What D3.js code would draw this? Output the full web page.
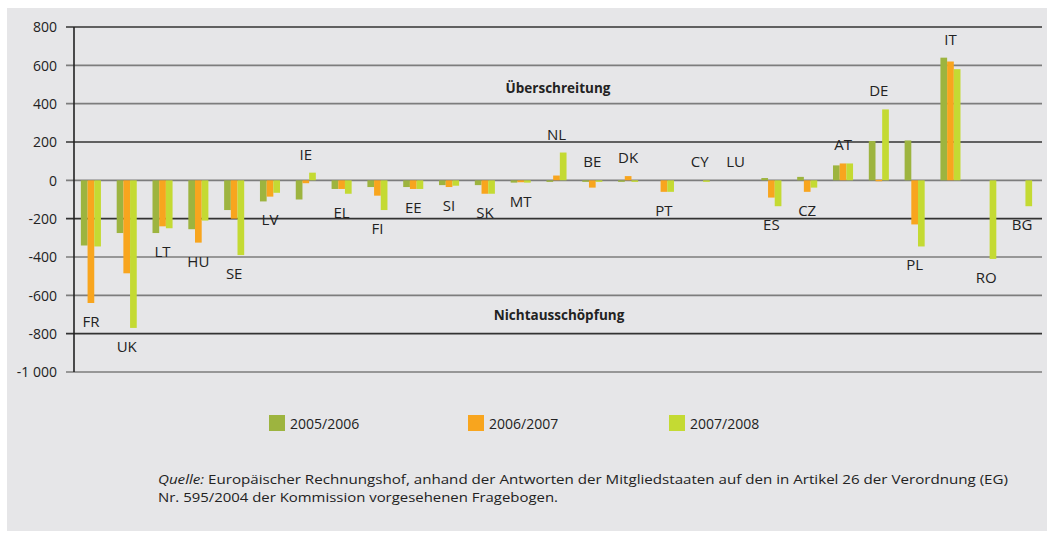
<!DOCTYPE html>
<html>
<head>
<meta charset="utf-8">
<script src="https://cdn.jsdelivr.net/npm/d3@7"></script>
<style>
  html, body { margin: 0; padding: 0; background: #ffffff; }
  svg { display: block; }
</style>
</head>
<body>
<svg id="chart" width="1053" height="533"></svg>
<script>
// ---- data ----
const countries = ["FR","UK","LT","HU","SE","LV","IE","EL","FI","EE","SI","SK","MT","NL","BE","DK","PT","CY","LU","ES","CZ","AT","DE","PL","IT","RO","BG"];
const seriesNames = ["2005/2006","2006/2007","2007/2008"];
const v2005 = [-340,-275,-275,-255,-155,-110,-100,-45,-35,-35,-25,-25,-12,-8,-5,-5,0,0,0,12,18,78,205,208,640,0,0];
const v2006 = [-640,-485,-240,-325,-200,-85,-15,-45,-80,-45,-35,-70,-10,25,-38,22,-60,0,0,-90,-60,88,3,-230,620,0,0];
const v2007 = [-345,-770,-250,-210,-390,-65,40,-70,-155,-45,-28,-70,-12,145,-5,-8,-60,-4,0,-135,-38,88,370,-345,580,-410,-135];
const labelSide = ["d","d","d","d","d","d","u","d","d","d","d","d","d","u","u","u","d","u","u","d","d","u","u","d","u","d","d"];
const yTicks = [800,600,400,200,0,-200,-400,-600,-800,-1000];
const darkTicks = [800,200,-200,-800];
const annotationUp = "Überschreitung";
const annotationDown = "Nichtausschöpfung";
const sourceLine1Italic = "Quelle:";
const sourceLine1 = " Europäischer Rechnungshof, anhand der Antworten der Mitgliedstaaten auf den in Artikel 26 der Verordnung (EG)";
const sourceLine2 = "Nr. 595/2004 der Kommission vorgesehenen Fragebogen.";

const colors = ["#9db43f", "#f8a51e", "#c4da33"];
const series = [v2005, v2006, v2007];

// ---- layout ----
const svg = d3.select("#chart");
const font = "'Open Sans', 'DejaVu Sans', sans-serif";

svg.append("rect").attr("x", 7).attr("y", 8).attr("width", 1040).attr("height", 523).attr("fill", "#e6e6e8");

const y = d3.scaleLinear().domain([-1000, 800]).range([372, 27]);
const x0 = d3.scaleBand().domain(countries).range([73, 1040]).paddingInner(0.44).paddingOuter(0.22);
const x1 = d3.scaleBand().domain(seriesNames).range([0, x0.bandwidth()]).padding(0);

// gridlines
const grid = svg.append("g");
grid.selectAll("line").data(yTicks).join("line")
  .attr("x1", 66).attr("x2", 1042)
  .attr("y1", d => y(d)).attr("y2", d => y(d))
  .attr("stroke", d => darkTicks.includes(d) ? "#333" : "#7d7d7d")
  .attr("stroke-width", 1.6);

// y axis labels
const fmt = d => d === -1000 ? "-1 000" : String(d);
const axis = d3.axisLeft(y).tickValues(yTicks).tickFormat(fmt).tickSize(0).tickPadding(0);
const ag = svg.append("g").attr("transform", "translate(57,0)").call(axis);
ag.select(".domain").remove();
ag.selectAll("text").attr("font-family", font).attr("font-size", 14).attr("fill", "#222").attr("dy", "0.35em").attr("x", 0);

// bars
const groups = svg.append("g").selectAll("g").data(countries).join("g")
  .attr("transform", d => `translate(${x0(d)},0)`);
groups.selectAll("rect").data((c, i) => seriesNames.map((s, k) => ({s, k, v: series[k][i]})))
  .join("rect")
  .attr("x", d => x1(d.s))
  .attr("width", x1.bandwidth())
  .attr("y", d => y(Math.max(0, d.v)))
  .attr("height", d => Math.max(Math.abs(y(d.v) - y(0)), d.v === 0 ? 0 : 1.5))
  .attr("fill", d => colors[d.k]);

// vertical axis line
svg.append("line").attr("x1", 74).attr("x2", 74).attr("y1", y(800)).attr("y2", y(-1000))
  .attr("stroke", "#222").attr("stroke-width", 1.6);

// country labels
svg.append("g").selectAll("text").data(countries).join("text")
  .attr("x", d => x0(d) + x0.bandwidth() / 2)
  .attr("y", (d, i) => {
    const vals = series.map(s => s[i]);
    return labelSide[i] === "u" ? y(Math.max(0, d3.max(vals))) - 13 : y(Math.min(0, d3.min(vals))) + 24;
  })
  .attr("text-anchor", "middle")
  .attr("font-family", font).attr("font-size", 15).attr("fill", "#222")
  .text(d => d);

// annotations
svg.append("text").attr("x", 558).attr("y", 93).attr("text-anchor", "middle")
  .attr("font-family", font).attr("font-size", 13.5).attr("font-weight", "bold").attr("fill", "#222").text(annotationUp);
svg.append("text").attr("x", 559).attr("y", 320).attr("text-anchor", "middle")
  .attr("font-family", font).attr("font-size", 13.5).attr("font-weight", "bold").attr("fill", "#222").text(annotationDown);

// legend
const legendX = [269, 468, 669];
const lg = svg.append("g").selectAll("g").data(seriesNames).join("g")
  .attr("transform", (d, i) => `translate(${legendX[i]},415)`);
lg.append("rect").attr("width", 16).attr("height", 16).attr("fill", (d, i) => colors[i]);
lg.append("text").attr("x", 21).attr("y", 14).attr("font-family", font).attr("font-size", 14).attr("fill", "#222").text(d => d);

// source
const s1 = svg.append("text").attr("x", 158).attr("y", 484).attr("font-family", font).attr("font-size", 13).attr("fill", "#222")
  .attr("textLength", 850).attr("lengthAdjust", "spacingAndGlyphs");
s1.append("tspan").attr("font-style", "italic").text(sourceLine1Italic);
s1.append("tspan").text(sourceLine1);
svg.append("text").attr("x", 158).attr("y", 502).attr("font-family", font).attr("font-size", 13).attr("fill", "#222")
  .attr("textLength", 400).attr("lengthAdjust", "spacingAndGlyphs").text(sourceLine2);
</script>
</body>
</html>
